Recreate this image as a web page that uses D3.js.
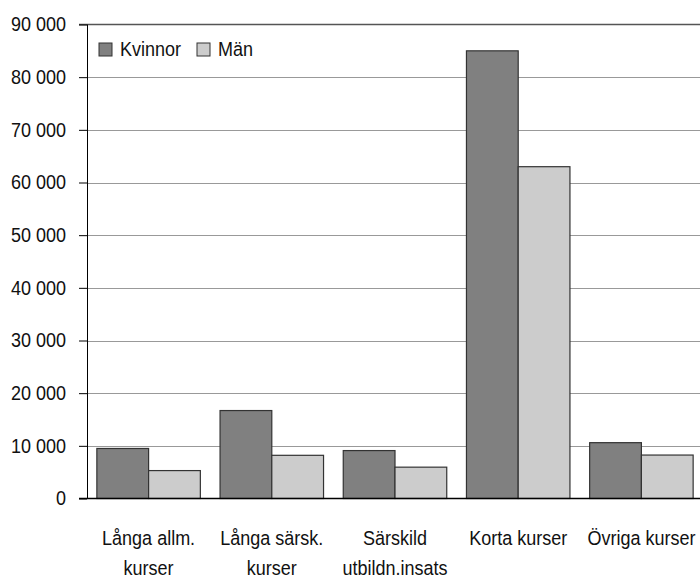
<!DOCTYPE html>
<html>
<head>
<meta charset="utf-8">
<script src="https://cdn.jsdelivr.net/npm/d3@7"></script>
<style>
  body { margin: 0; background: #fff; }
  svg { display: block; font-family: Arial, "Liberation Sans", sans-serif; }
</style>
</head>
<body>
<svg width="700" height="578"></svg>
<script>
// kursdeltagare per kurstyp
var categories = [
    ["Långa allm.", "kurser"],
    ["Långa särsk.", "kurser"],
    ["Särskild", "utbildn.insats"],
    ["Korta kurser"],
    ["Övriga kurser"]
];
var seriesNames = ["Kvinnor", "Män"];
var kvinnor = [9500, 16700, 9100, 85000, 10600];
var man = [5300, 8200, 5950, 63000, 8250];
var yTicks = [0, 10000, 20000, 30000, 40000, 50000, 60000, 70000, 80000, 90000];
var colors = ["#808080", "#cccccc"];

function draw() {
    var svg = d3.select("svg");
    var plotLeft = 87, plotRight = 703, plotTop = 24.5, plotBottom = 498.5;
    var stretch = "scale(1,1.16)";

    var x = d3.scaleBand()
        .domain(d3.range(categories.length))
        .range([plotLeft, plotRight])
        .paddingInner(0.16)
        .paddingOuter(0.08);

    var xs = d3.scaleBand()
        .domain([0, 1])
        .range([0, x.bandwidth()]);

    var y = d3.scaleLinear()
        .domain([0, 90000])
        .range([plotBottom, plotTop]);

    var fmt = function(d) { return d3.format(",")(d).replace(/,/g, " "); };

    // gridlines
    svg.append("g")
        .selectAll("line")
        .data(yTicks.filter(function(d) { return d > 0 && d < 90000; }))
        .enter().append("line")
        .attr("x1", plotLeft).attr("x2", 700)
        .attr("y1", function(d) { return Math.round(y(d)) + 0.5; })
        .attr("y2", function(d) { return Math.round(y(d)) + 0.5; })
        .attr("stroke", "#999")
        .attr("stroke-width", 1);

    // top border
    svg.append("line")
        .attr("x1", plotLeft - 8).attr("x2", 700)
        .attr("y1", y(90000)).attr("y2", y(90000))
        .attr("stroke", "#555").attr("stroke-width", 1.5);

    // bars
    [kvinnor, man].forEach(function(series, s) {
        svg.append("g")
            .selectAll("rect")
            .data(series)
            .enter().append("rect")
            .attr("x", function(d, i) { return x(i) + xs(s); })
            .attr("width", xs.bandwidth())
            .attr("y", function(d) { return y(d); })
            .attr("height", function(d) { return y(0) - y(d); })
            .attr("fill", colors[s])
            .attr("stroke", "#333")
            .attr("stroke-width", 1.2);
    });

    // y axis
    var yAxis = svg.append("g")
        .attr("transform", "translate(" + plotLeft + ",0)")
        .call(d3.axisLeft(y).tickValues(yTicks).tickFormat(fmt).tickSize(8).tickPadding(13));
    yAxis.select(".domain").attr("stroke", "#000").attr("d", "M0.5," + plotTop + "V" + plotBottom);
    yAxis.selectAll(".tick line").attr("stroke", "#000");
    yAxis.selectAll(".tick text")
        .attr("font-size", 18)
        .attr("fill", "#111")
        .attr("font-family", "Arial, 'Liberation Sans', sans-serif")
        .attr("dy", "0.3em")
        .attr("transform", stretch);

    // baseline
    svg.append("line")
        .attr("x1", plotLeft - 8).attr("x2", 700)
        .attr("y1", y(0)).attr("y2", y(0))
        .attr("stroke", "#000").attr("stroke-width", 1.5);

    // category labels
    var labels = svg.append("g")
        .selectAll("g")
        .data(categories)
        .enter().append("g")
        .attr("transform", function(d, i) { return "translate(" + (x(i) + x.bandwidth() / 2) + ",0)"; });

    labels.selectAll("text")
        .data(function(d) { return d; })
        .enter().append("text")
        .attr("text-anchor", "middle")
        .attr("font-size", 18)
        .attr("fill", "#111")
        .attr("transform", function(d, j) { return "translate(0," + (545 + j * 30) + ") " + stretch; })
        .text(function(d) { return d; });

    // legend
    var legend = svg.append("g").attr("transform", "translate(99,43)");
    var lx = [0, 98];
    seriesNames.forEach(function(name, i) {
        var g = legend.append("g").attr("transform", "translate(" + lx[i] + ",0)");
        g.append("rect")
            .attr("width", 13).attr("height", 13)
            .attr("fill", colors[i]).attr("stroke", "#333").attr("stroke-width", 1);
        g.append("text")
            .attr("transform", "translate(21,13) " + stretch)
            .attr("font-size", 18)
            .attr("fill", "#111")
            .text(name);
    });
} //draw

draw();
</script>
</body>
</html>
